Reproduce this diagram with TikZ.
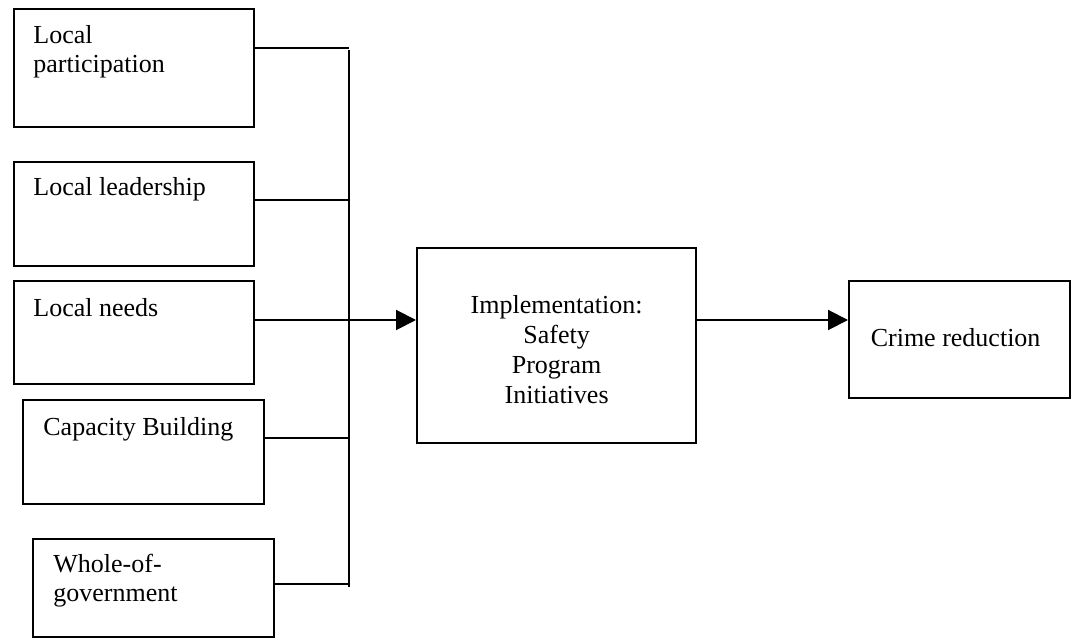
\documentclass[tikz,border=0pt]{standalone}
\usepackage{fontspec}
\setmainfont{Liberation Serif}
\usetikzlibrary{arrows.meta, positioning, calc}

\begin{document}
\begin{tikzpicture}[x=0.5pt, y=-0.5pt]
    % --- Style Definitions ---
    \tikzset{
        input box/.style={
            draw=black,
            line width=1.1pt,
            anchor=north west,
            inner sep=0pt
        },
        main box/.style={
            draw=black,
            line width=1.1pt,
            anchor=north west,
            inner sep=0pt
        },
        box text/.style={
            anchor=north west,
            inner sep=0pt,
            align=left,
            font=\fontsize{13}{14.5}\selectfont
        },
        centre text/.style={
            inner sep=0pt,
            align=center,
            font=\fontsize{13}{15}\selectfont
        },
        link line/.style={
            draw=black,
            line width=1pt
        },
        flow arrow/.style={
            -{Triangle[length=10pt, width=10pt]},
            line width=1pt
        }
    }

    % Page frame (pixel units of the drawing)
    \useasboundingbox (0,0) rectangle (1075,640);

    % Bus line position
    \def\busx{349}

    % --- 1. Input boxes ---
    \node[input box, minimum width=120pt, minimum height=59pt] (lp) at (13,8) {};
    \node[input box, minimum width=120pt, minimum height=52pt] (ll) at (13,161) {};
    \node[input box, minimum width=120pt, minimum height=51.5pt] (ln) at (13,280) {};
    \node[input box, minimum width=120.5pt, minimum height=52pt] (cb) at (22,399) {};
    \node[input box, minimum width=120.5pt, minimum height=49pt] (wg) at (32,538) {};

    % texts sit in the upper left corner of each box
    \node[box text] (lp text) at ($(lp.north west)+(20,17)$) {Local\\participation};
    \node[box text] (ll text) at ($(ll.north west)+(20,16)$) {Local leadership};
    \node[box text] (ln text) at ($(ln.north west)+(20,18)$) {Local needs};
    \node[box text] (cb text) at ($(cb.north west)+(21,18)$) {Capacity Building};
    \node[box text] (wg text) at ($(wg.north west)+(21,16)$) {Whole-of-\\government};

    % --- 2. Main boxes ---
    \node[main box, minimum width=139.5pt, minimum height=97.5pt] (impl) at (416,247) {};
    \node[main box, minimum width=110.5pt, minimum height=58.5pt] (crime) at (848,280) {};

    \node[centre text] (impl text) at ($(impl.center)+(0,4)$)
        {Implementation:\\Safety\\Program\\Initiatives};
    \node[centre text] (crime text) at ($(crime.center)+(-4,-2)$) {Crime reduction};

    % --- 3. Bus and joins ---
    \coordinate (bus top) at (\busx,50);
    \coordinate (bus bottom) at (\busx,587);
    \coordinate (j1) at (\busx,48);
    \coordinate (j2) at (\busx,200);
    \coordinate (j3) at (\busx,320);
    \coordinate (j4) at (\busx,438);
    \coordinate (j5) at (\busx,584);

    \draw[link line] (bus top) -- (bus bottom);
    \draw[link line] (j1 -| lp.east) -- (j1);
    \draw[link line] (j2 -| ll.east) -- (j2);
    \draw[link line] (j3 -| ln.east) -- (j3);
    \draw[link line] (j4 -| cb.east) -- (j4);
    \draw[link line] (j5 -| wg.east) -- (j5);

    % --- 4. Arrows ---
    \draw[flow arrow] (j3) -- (j3 -| impl.west);
    \draw[flow arrow] (j3 -| impl.east) -- (j3 -| crime.west);

\end{tikzpicture}
\end{document}
